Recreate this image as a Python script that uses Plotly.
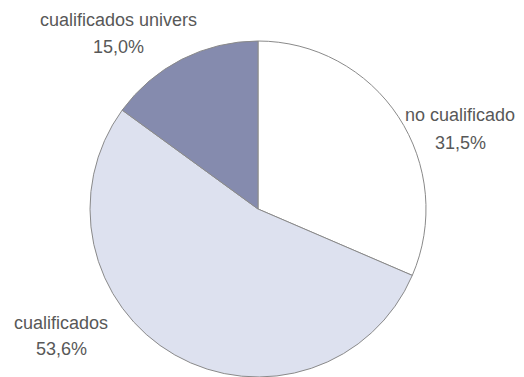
import plotly.graph_objects as go

labels = ["no cualificado", "cualificados", "cualificados univers"]
values = [31.5, 53.6, 15.0]
colors = ["#ffffff", "#dde1ef", "#858bae"]

# label layout: (x center px, y of name line px, y of percent line px) in figure coords
label_pos = [(452, 107, 135), (53, 315, 341), (110, 12, 39)]

W, H = 524, 377

fig = go.Figure(
    go.Pie(
        labels=labels,
        values=values,
        sort=False,
        direction="clockwise",
        rotation=0,
        textinfo="none",
        hoverinfo="label+percent",
        marker=dict(colors=colors, line=dict(color="#8a8a8a", width=1)),
        domain=dict(x=[0.1565, 0.7977], y=[0.0212, 0.9125]),
        showlegend=False,
    )
)

font = dict(family="Liberation Sans, Arial, sans-serif", size=18, color="#585858")
annotations = []
for lab, val, (x, y1, y2) in zip(labels, values, label_pos):
    pct = f"{val:.1f}%".replace(".", ",")
    for txt, y in ((lab, y1), (pct, y2)):
        annotations.append(
            dict(
                x=x / W, y=1 - y / H, xref="paper", yref="paper",
                text=txt, showarrow=False, align="center",
                xanchor="center", yanchor="middle", font=font,
            )
        )

fig.update_layout(
    width=W, height=H,
    margin=dict(l=0, r=0, t=0, b=0),
    paper_bgcolor="#ffffff",
    plot_bgcolor="#ffffff",
    annotations=annotations,
    separators=",.",
)

fig.write_html("out.html")
